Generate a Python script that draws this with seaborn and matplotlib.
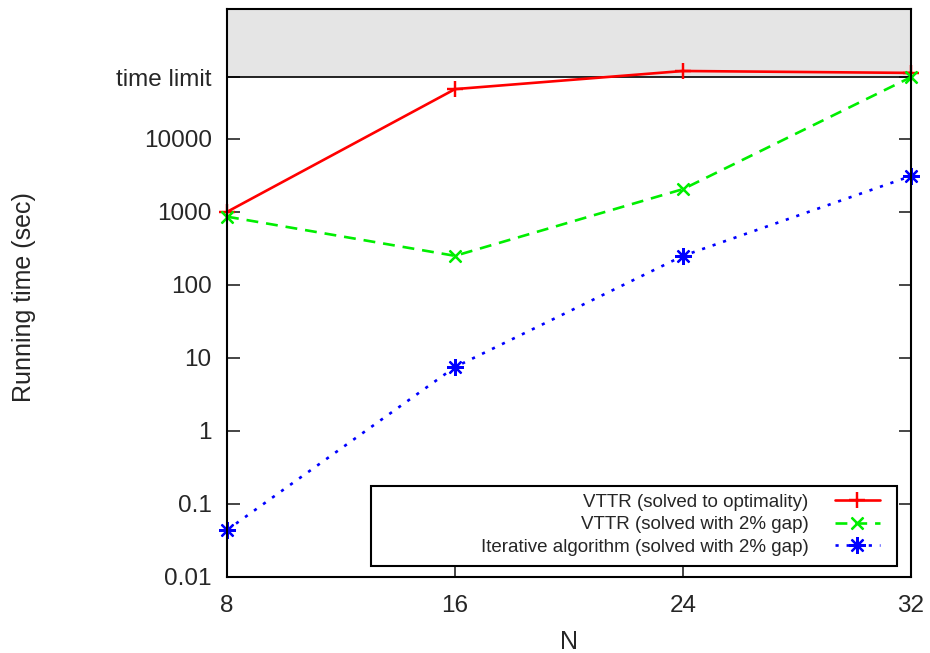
import matplotlib
matplotlib.use("Agg")
import matplotlib.pyplot as plt
import seaborn as sns
import numpy as np
import pandas as pd
from matplotlib.lines import Line2D
from matplotlib.patches import Rectangle

# ---- data ----
N = [8, 16, 24, 32]
vttr_opt = [1000, 48000, 85000, 80000]
vttr_gap = [860, 250, 2050, 70000]
iterative = [0.044, 7.5, 250, 3100]
time_limit = 70000
y_ticks = [0.01, 0.1, 1, 10, 100, 1000, 10000, time_limit]
y_tick_labels = ["0.01", "0.1", "1", "10", "100", "1000", "10000", "time limit"]
x_ticks = [8, 16, 24, 32]
labels = ["VTTR (solved to optimality)",
          "VTTR (solved with 2% gap)",
          "Iterative algorithm (solved with 2% gap)"]

sns.set_style("ticks")
plt.rcParams['font.family'] = ['Liberation Sans', 'DejaVu Sans']

fig = plt.figure(figsize=(9.3, 6.53), dpi=100)
ax = fig.add_axes([0.2441, 0.1164, 0.9796 - 0.2441, 0.9862 - 0.1164])

ax.set_yscale('log')
ax.set_ylim(0.01, 6.0e5)
ax.set_xlim(8, 32)

ax.axhspan(time_limit, 6.0e5, color='#e5e5e5', zorder=0, lw=0)
ax.axhline(time_limit, color='black', lw=1.2, zorder=1)

series = [
    (vttr_opt, '#ff0000', (4, 2, 0), '-'),
    (vttr_gap, '#00ee00', (4, 2, 45), (0, (4.5, 3))),
    (iterative, '#0000ff', (8, 2, 0), (0, (1.2, 3))),
]
handles = []
for (vals, col, mk, ls), lab in zip(series, labels):
    df = pd.DataFrame({"N": N, "t": vals})
    sns.lineplot(data=df, x="N", y="t", ax=ax, color=col, marker=mk,
                 linestyle=ls, linewidth=1.9, markersize=12,
                 markeredgewidth=1.6, markeredgecolor=col, zorder=3,
                 clip_on=False, legend=False)
    handles.append(Line2D([], [], color=col, marker=mk, linestyle=ls,
                          linewidth=1.9, markersize=12, markeredgewidth=1.6))

ax.set_yticks(y_ticks)
ax.set_yticklabels(y_tick_labels)
ax.yaxis.set_minor_locator(matplotlib.ticker.NullLocator())
ax.set_xticks(x_ticks)
ax.set_xticklabels([str(v) for v in x_ticks])
ax.tick_params(axis='y', which='major', direction='in', length=9, width=1.2,
               labelsize=17.5, pad=11, left=True, right=True)
ax.tick_params(axis='x', which='major', direction='in', length=9, width=1.2,
               labelsize=17.5, pad=13, top=False)
for sp in ax.spines.values():
    sp.set_linewidth(1.5)
    sp.set_color('black')
    sp.set_zorder(5)

ax.set_xlabel("N", fontsize=18)
ax.set_ylabel("Running time (sec)", fontsize=18)
ax.xaxis.set_label_coords(0.5, -0.093)
ax.yaxis.set_label_coords(-0.279, 0.493)

# legend box
rect = Rectangle((0.2105, 0.0194), 0.9795 - 0.2105, 0.160 - 0.0194,
                 transform=ax.transAxes, facecolor='white', edgecolor='black',
                 lw=1.5, zorder=6)
ax.add_patch(rect)
leg = ax.legend(handles, labels, loc='lower right',
                bbox_to_anchor=(0.9693, 0.0194), borderaxespad=0.15,
                frameon=False, markerfirst=False, fontsize=13.5,
                handlelength=2.4, handletextpad=1.4, labelspacing=0.28)
leg.set_zorder(7)

fig.savefig("out.png", dpi=100)
